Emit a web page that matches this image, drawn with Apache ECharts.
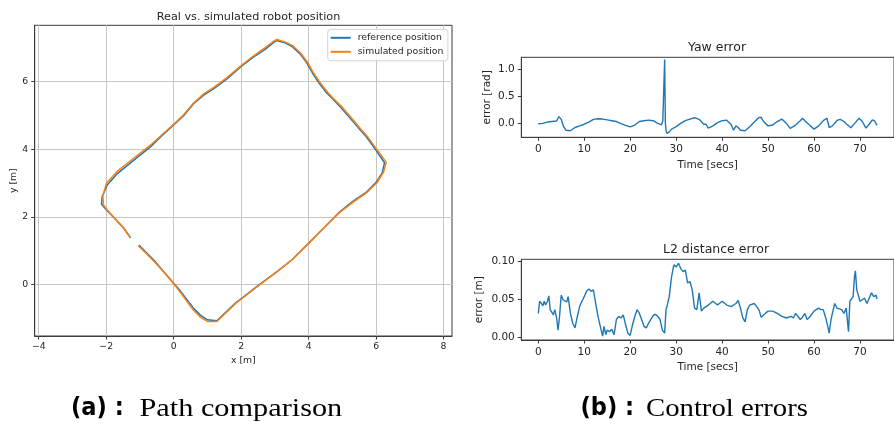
<!DOCTYPE html>
<html>
<head>
<meta charset="utf-8">
<script src="https://cdn.jsdelivr.net/npm/echarts@6/dist/echarts.min.js"></script>
<style>
  html, body { margin: 0; padding: 0; background: #fff; }
  #chart { width: 894px; height: 424px; }
</style>
</head>
<body>
<div id="chart"></div>
<script>
// Robot path: reference trajectory (x, y in metres)
const refX = [-1.03, -0.8, -0.59, -0.3, 0.0, 0.2, 0.4, 0.6, 0.8, 1.0, 1.28, 1.55, 1.82, 2.1, 2.46, 2.75, 3.05, 3.5, 4.04, 4.5, 4.92, 5.3, 5.7, 6.0, 6.18, 6.25, 6.0, 5.71, 5.47, 5.22, 4.97, 4.7, 4.53, 4.3, 4.1, 3.95, 3.74, 3.5, 3.3, 3.05, 2.95, 2.7, 2.36, 2.0, 1.58, 1.2, 0.89, 0.59, 0.3, 0.0, -0.35, -0.69, -1.18, -1.67, -1.97, -2.12, -2.14, -1.97, -1.72, -1.48, -1.28];
const refY = [1.16, 0.93, 0.72, 0.38, 0.03, -0.2, -0.46, -0.72, -0.92, -1.05, -1.08, -0.82, -0.56, -0.35, -0.07, 0.15, 0.37, 0.72, 1.26, 1.72, 2.15, 2.45, 2.72, 3.02, 3.3, 3.6, 3.97, 4.37, 4.64, 4.93, 5.22, 5.5, 5.67, 5.97, 6.28, 6.55, 6.83, 7.05, 7.15, 7.22, 7.15, 6.95, 6.73, 6.45, 6.08, 5.8, 5.6, 5.35, 5.0, 4.72, 4.4, 4.07, 3.68, 3.28, 2.94, 2.6, 2.37, 2.18, 1.92, 1.66, 1.38];

// Robot path: simulated trajectory
const simX = [-1.05, -0.82, -0.6, -0.3, 0.0, 0.2, 0.4, 0.6, 0.8, 1.0, 1.28, 1.55, 1.82, 2.1, 2.46, 2.75, 3.05, 3.5, 4.04, 4.5, 4.92, 5.3, 5.7, 6.02, 6.22, 6.3, 6.03, 5.74, 5.5, 5.25, 5.0, 4.72, 4.55, 4.32, 4.12, 3.97, 3.76, 3.52, 3.3, 3.06, 2.95, 2.7, 2.36, 2.0, 1.58, 1.2, 0.89, 0.59, 0.3, 0.0, -0.35, -0.69, -1.18, -1.67, -1.99, -2.1, -2.08, -1.97, -1.72, -1.48, -1.3];
const simY = [1.14, 0.92, 0.7, 0.37, 0.02, -0.24, -0.52, -0.78, -0.98, -1.1, -1.1, -0.84, -0.58, -0.36, -0.08, 0.14, 0.36, 0.72, 1.25, 1.72, 2.13, 2.42, 2.7, 3.0, 3.32, 3.62, 3.98, 4.38, 4.65, 4.95, 5.24, 5.52, 5.7, 6.0, 6.3, 6.57, 6.85, 7.07, 7.18, 7.25, 7.19, 7.0, 6.76, 6.48, 6.12, 5.84, 5.64, 5.37, 5.03, 4.74, 4.43, 4.12, 3.74, 3.35, 3.0, 2.62, 2.35, 2.2, 1.93, 1.66, 1.4];

// Yaw error over time (secs, rad)
const yawT = [0, 1, 2, 3, 4, 4.5, 5, 5.5, 6, 7, 8, 9, 10, 11, 12, 13, 14, 15, 16, 17, 18, 19, 20, 21, 22, 23, 24, 25, 26, 26.8, 27.1, 27.35, 27.5, 27.65, 27.8, 28.0, 28.5, 29, 30, 31, 32, 33, 34, 35, 36, 36.5, 37, 38, 39, 40, 41, 42, 42.5, 43, 43.5, 44, 45, 46, 47, 48, 48.5, 49, 50, 51, 52, 53, 54, 54.8, 56, 57, 57.5, 58, 59, 60, 61, 62, 62.8, 63, 63.3, 64, 64.3, 65, 65.7, 66.5, 67, 68, 69, 69.8, 70.5, 71.3, 72, 72.7, 73.2, 73.7];
const yawErr = [0.0, 0.005, 0.03, 0.04, 0.05, 0.13, 0.08, -0.05, -0.12, -0.13, -0.07, -0.04, -0.01, 0.03, 0.08, 0.09, 0.085, 0.07, 0.055, 0.04, 0.0, -0.03, -0.06, -0.025, 0.04, 0.055, 0.065, 0.055, 0.005, -0.02, 0.05, 0.05, 1.18, 0.02, -0.12, -0.18, -0.15, -0.1, -0.055, 0.005, 0.055, 0.085, 0.11, 0.08, -0.01, -0.01, -0.08, -0.04, 0.02, 0.055, 0.065, -0.02, -0.12, -0.04, -0.07, -0.12, -0.13, -0.055, 0.03, 0.115, 0.115, 0.04, -0.04, -0.025, 0.04, 0.085, 0.005, -0.085, -0.025, 0.055, 0.1, 0.055, -0.025, -0.1, -0.04, 0.055, 0.1, 0.07, -0.07, -0.04, -0.07, 0.06, 0.08, 0.04, 0.0, -0.075, 0.02, 0.1, 0.04, -0.08, -0.01, 0.07, 0.05, -0.03];

// L2 distance error over time (secs, m)
const distT = [0, 0.3, 0.7, 1, 1.3, 1.6, 2, 2.3, 2.6, 3, 3.3, 3.6, 4, 4.3, 4.6, 5, 5.4, 5.8, 6.2, 6.5, 7, 7.5, 8, 8.5, 9, 9.5, 10, 10.5, 11, 11.5, 12, 12.5, 13, 13.5, 14, 14.3, 14.7, 15, 15.5, 16, 16.5, 17, 17.5, 18, 18.5, 19, 19.5, 20, 20.5, 21, 21.5, 22, 22.5, 23, 23.5, 24, 24.5, 25, 25.5, 26, 26.5, 27, 27.5, 27.8, 28, 28.5, 29, 29.5, 30, 30.5, 31, 31.5, 32, 32.5, 33, 33.5, 34, 34.5, 35, 35.5, 36, 37, 38, 39, 40, 41, 42, 43, 43.5, 44, 44.5, 45, 45.5, 46, 47, 48, 48.5, 49, 50, 51, 52, 53, 54, 55, 55.5, 56, 57, 57.5, 58, 58.5, 59, 60, 61, 61.5, 62, 62.5, 63, 63.3, 63.7, 64, 64.5, 65, 66, 66.5, 67, 67.5, 67.8, 68, 68.5, 68.8, 69, 69.3, 69.7, 70, 70.5, 71, 71.5, 72, 72.5, 73, 73.5, 73.7];
const distErr = [0.032, 0.048, 0.045, 0.042, 0.048, 0.043, 0.048, 0.055, 0.037, 0.039, 0.03, 0.037, 0.026, 0.01, 0.026, 0.056, 0.05, 0.052, 0.047, 0.054, 0.032, 0.019, 0.013, 0.028, 0.041, 0.048, 0.054, 0.061, 0.064, 0.061, 0.063, 0.045, 0.028, 0.015, 0.002, 0.015, 0.004, 0.01, 0.008, 0.011, 0.004, 0.024, 0.028, 0.026, 0.03, 0.017, 0.006, 0.003, 0.017, 0.028, 0.037, 0.032, 0.024, 0.015, 0.013, 0.019, 0.024, 0.029, 0.031, 0.028, 0.024, 0.01, 0.006, 0.037, 0.041, 0.054, 0.08, 0.096, 0.093, 0.098, 0.091, 0.087, 0.089, 0.072, 0.074, 0.063, 0.039, 0.037, 0.059, 0.035, 0.039, 0.043, 0.048, 0.043, 0.048, 0.043, 0.041, 0.045, 0.049, 0.039, 0.026, 0.021, 0.037, 0.043, 0.045, 0.037, 0.027, 0.03, 0.035, 0.035, 0.032, 0.028, 0.026, 0.028, 0.026, 0.032, 0.024, 0.027, 0.032, 0.024, 0.027, 0.035, 0.039, 0.037, 0.037, 0.027, 0.015, 0.006, 0.024, 0.032, 0.045, 0.039, 0.037, 0.032, 0.039, 0.008, 0.048, 0.05, 0.054, 0.08, 0.088, 0.063, 0.061, 0.048, 0.05, 0.052, 0.045, 0.052, 0.059, 0.054, 0.056, 0.051];

// Tick labels
const pathXTicks = [-4, -2, 0, 2, 4, 6, 8];
const pathYTicks = [0, 2, 4, 6];
const timeTicks = [0, 10, 20, 30, 40, 50, 60, 70];
const yawTicks = [0.0, 0.5, 1.0];
const distTicks = [0.00, 0.05, 0.10];

const zip = (a, b) => a.map((v, i) => [v, b[i]]);
const minus = v => (v < 0 ? '\u2212' + Math.abs(v) : String(v));

const FONT = 'DejaVu Sans';
const TXT = '#262626';
const SPINE = '#3c3c3c';
const BLUE = '#1f77b4';
const ORANGE = '#ff7f0e';

function axisBase(fontSize, ticks, fmt, margin) {
  return {
    axisLine: { show: true, onZero: false, lineStyle: { color: SPINE, width: 1 } },
    axisTick: { show: true, inside: false, length: 3.5, customValues: ticks, lineStyle: { color: SPINE, width: 1 } },
    axisLabel: { customValues: ticks, formatter: fmt, fontFamily: FONT, fontSize: fontSize, color: TXT, margin: margin,
                 showMinLabel: true, showMaxLabel: true },
    nameTextStyle: { fontFamily: FONT, color: TXT }
  };
}

const chart = echarts.init(document.getElementById('chart'), null, { renderer: 'canvas' });

const gridStyle = { show: true, borderColor: SPINE, borderWidth: 1, backgroundColor: 'transparent' };

const capBold = { fontFamily: 'DejaVu Sans', fontWeight: 'bold', fontSize: 24, fill: '#000', verticalAlign: 'middle' };
const capSerif = { fontFamily: 'Liberation Serif, DejaVu Serif', fontSize: 26, fill: '#000', verticalAlign: 'middle' };

const option = {
  animation: false,
  backgroundColor: '#fff',
  title: [
    { text: 'Real vs. simulated robot position', left: 243.5, top: 7, textAlign: 'center',
      textStyle: { fontFamily: FONT, fontSize: 11.2, fontWeight: 'normal', color: TXT } },
    { text: 'Yaw error', left: 712, top: 36, textAlign: 'center',
      textStyle: { fontFamily: FONT, fontSize: 12.5, fontWeight: 'normal', color: TXT } },
    { text: 'L2 distance error', left: 711, top: 238.5, textAlign: 'center',
      textStyle: { fontFamily: FONT, fontSize: 12.5, fontWeight: 'normal', color: TXT } }
  ],
  legend: {
    data: ['reference position', 'simulated position'],
    orient: 'vertical',
    left: 327.7, top: 29.3,
    itemWidth: 20, itemHeight: 2, itemGap: 5,
    icon: 'rect',
    padding: [4, 4.5, 4.5, 3],
    borderColor: '#d4d4d4', borderWidth: 1, borderRadius: 3,
    backgroundColor: 'rgba(255,255,255,0.85)',
    selectedMode: false,
    textStyle: { fontFamily: FONT, fontSize: 9.3, color: TXT, padding: [0, 0, 0, 2] }
  },
  grid: [
    Object.assign({ left: 34.7, top: 25.3, width: 417.3, height: 310.7 }, gridStyle),
    Object.assign({ left: 521.3, top: 57.3, width: 381.4, height: 80 }, gridStyle),
    Object.assign({ left: 521.3, top: 259.3, width: 381.4, height: 80.7 }, gridStyle)
  ],
  xAxis: [
    Object.assign(axisBase(9.3, pathXTicks, minus, 6), {
      type: 'value', gridIndex: 0, min: -4.12, max: 8.25, splitNumber: 5,
      name: 'x [m]', nameLocation: 'middle', nameGap: 17,
      nameTextStyle: { fontFamily: FONT, fontSize: 9.3, color: TXT },
      splitLine: { show: true, lineStyle: { color: '#c6c6c6', width: 1 } }
    }),
    Object.assign(axisBase(10.5, timeTicks, v => String(v), 6.5), {
      type: 'value', gridIndex: 1, min: -3.69, max: 77.4, splitNumber: 8,
      name: 'Time [secs]', nameLocation: 'middle', nameGap: 22,
      nameTextStyle: { fontFamily: FONT, fontSize: 10.5, color: TXT },
      splitLine: { show: false }
    }),
    Object.assign(axisBase(10.5, timeTicks, v => String(v), 6.5), {
      type: 'value', gridIndex: 2, min: -3.69, max: 77.4, splitNumber: 8,
      name: 'Time [secs]', nameLocation: 'middle', nameGap: 22,
      nameTextStyle: { fontFamily: FONT, fontSize: 10.5, color: TXT },
      splitLine: { show: false }
    })
  ],
  yAxis: [
    Object.assign(axisBase(9.3, pathYTicks, minus, 6.5), {
      type: 'value', gridIndex: 0, min: -1.53, max: 7.67, splitNumber: 5,
      name: 'y [m]', nameLocation: 'middle', nameGap: 17, nameRotate: 90,
      nameTextStyle: { fontFamily: FONT, fontSize: 9.3, color: TXT },
      splitLine: { show: true, lineStyle: { color: '#c6c6c6', width: 1 } }
    }),
    Object.assign(axisBase(10.5, yawTicks, v => v.toFixed(1), 6.5), {
      type: 'value', gridIndex: 1, min: -0.25, max: 1.22, splitNumber: 3,
      name: 'error [rad]', nameLocation: 'middle', nameGap: 29, nameRotate: 90,
      nameTextStyle: { fontFamily: FONT, fontSize: 10.5, color: TXT },
      splitLine: { show: false }
    }),
    Object.assign(axisBase(10.5, distTicks, v => v.toFixed(2), 6.5), {
      type: 'value', gridIndex: 2, min: -0.003, max: 0.1032, splitNumber: 2,
      name: 'error [m]', nameLocation: 'middle', nameGap: 37, nameRotate: 90,
      nameTextStyle: { fontFamily: FONT, fontSize: 10.5, color: TXT },
      splitLine: { show: false }
    })
  ],
  series: [
    { name: 'reference position', type: 'line', xAxisIndex: 0, yAxisIndex: 0,
      data: zip(refX, refY), showSymbol: false, symbol: 'none', clip: true,
      lineStyle: { color: BLUE, width: 1.5 }, itemStyle: { color: BLUE }, z: 2 },
    { name: 'simulated position', type: 'line', xAxisIndex: 0, yAxisIndex: 0,
      data: zip(simX, simY), showSymbol: false, symbol: 'none', clip: true,
      lineStyle: { color: ORANGE, width: 1.5 }, itemStyle: { color: ORANGE }, z: 3 },
    { name: 'yaw', type: 'line', xAxisIndex: 1, yAxisIndex: 1,
      data: zip(yawT, yawErr), showSymbol: false, symbol: 'none',
      lineStyle: { color: BLUE, width: 1.4 }, itemStyle: { color: BLUE } },
    { name: 'dist', type: 'line', xAxisIndex: 2, yAxisIndex: 2,
      data: zip(distT, distErr), showSymbol: false, symbol: 'none',
      lineStyle: { color: BLUE, width: 1.4 }, itemStyle: { color: BLUE } }
  ],
  // Sub-figure captions
  graphic: [
    { type: 'text', x: 71, y: 409, scaleX: 0.94, style: Object.assign({ text: '(a) :' }, capBold) },
    { type: 'text', x: 139.5, y: 409, scaleX: 1.165, style: Object.assign({ text: 'Path comparison' }, capSerif) },
    { type: 'text', x: 580.5, y: 409, scaleX: 0.94, style: Object.assign({ text: '(b) :' }, capBold) },
    { type: 'text', x: 646, y: 409, scaleX: 1.105, style: Object.assign({ text: 'Control errors' }, capSerif) }
  ]
};

chart.setOption(option);
</script>
</body>
</html>
